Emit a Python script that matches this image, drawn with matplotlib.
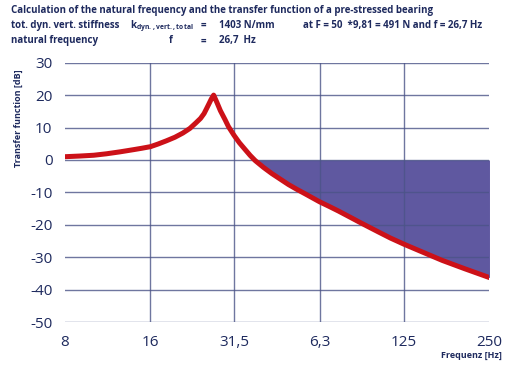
import matplotlib
matplotlib.use("Agg")
import numpy as np
from matplotlib import pyplot as plt
from matplotlib.ticker import FixedLocator, NullLocator

# curve (frequency in Hz, transfer function in dB)
freq = [8, 9, 10.1, 11.2, 12.5, 14, 14.9, 16, 17, 18.2, 19.5, 20.8, 22, 23.1,
        24, 24.7, 25.2, 25.7, 26.2, 26.7,
        27.4, 28.2, 29.3, 30.1, 31.5, 32.9, 34.4, 35.9, 37.4, 40, 42.8, 45.8,
        49.0, 52.5, 56.2, 59.5, 63, 68, 73.6, 80.5, 88, 94.5, 101.5, 112, 125,
        145, 170.5, 205, 250]
gain_db = [1.0, 1.2, 1.45, 1.9, 2.5, 3.2, 3.6, 4.1, 4.9, 5.9, 7.0, 8.3, 9.7, 11.4,
           12.8, 14.3, 15.8, 17.3, 18.8, 20.0,
           17.8, 15.2, 12.4, 10.3, 7.6, 5.3, 3.3, 1.4, -0.2, -2.3, -4.2, -5.9,
           -7.6, -9.1, -10.5, -11.7, -12.9, -14.3, -15.8, -17.6, -19.4, -20.8, -22.2, -24.1, -26.0,
           -28.4, -31.0, -33.6, -36.3]

x_ticks = [8, 16, 31.5, 63, 125, 250]
x_labels = ['8', '16', '31,5', '6,3', '125', '250']
y_ticks = [30, 20, 10, 0, -10, -20, -30, -40, -50]

title = 'Calculation of the natural frequency and the transfer function of a pre-stressed bearing'

navy = '#1E2A5E'
red = '#CC1118'
fill_col = '#5F58A0'
grid_col = '#4B5487'

plt.rcParams['font.family'] = ['Open Sans', 'DejaVu Sans']
plt.rcParams['axes.unicode_minus'] = False

fig = plt.figure(figsize=(5.16, 3.68), dpi=100)
ax = fig.add_axes([0.126, 0.125, 0.8226, 0.7046])

f = np.array(freq)
g = np.array(gain_db)
ax.fill_between(f, g, 0, where=g < 0, interpolate=True, color=fill_col, lw=0, zorder=1)
ax.plot(f, g, color=red, lw=3.6, solid_capstyle='round', solid_joinstyle='round', zorder=4)

for yv in y_ticks:
    ax.axhline(yv, color=grid_col, lw=1.0, alpha=0.8, zorder=2)
for xv in x_ticks[1:-1]:
    ax.axvline(xv, color=grid_col, lw=1.0, alpha=0.8, zorder=2)

ax.set_xscale('log', base=2)
ax.set_xlim(8, 250)
ax.set_ylim(-50, 30)
ax.xaxis.set_major_locator(FixedLocator(x_ticks))
ax.xaxis.set_minor_locator(NullLocator())
ax.set_xticklabels(x_labels)
ax.set_yticks(y_ticks)
ax.tick_params(length=0, labelsize=11, labelcolor=navy)
ax.tick_params(axis='x', pad=9)
ax.tick_params(axis='y', pad=9)
for s in ax.spines.values():
    s.set_visible(False)
ax.set_facecolor('none')

fig.text(0.973, 0.033, 'Frequenz [Hz]', ha='right', va='center', fontsize=6.5,
         fontweight='bold', color=navy)
fig.text(0.035, 0.68, 'Transfer function [dB]', ha='center', va='center', rotation=90,
         fontsize=6.5, fontweight='bold', color=navy)

# header block
hs = 7.0
fig.text(0.022, 0.972, title, ha='left', va='center', fontsize=hs, fontweight='bold', color=navy)
row1, row2 = 0.930, 0.889
fig.text(0.022, row1, 'tot. dyn. vert. stiffness', ha='left', va='center', fontsize=hs,
         fontweight='bold', color=navy)
fig.text(0.252, row1, r'k$_{\mathregular{dyn., vert., total}}$', ha='left', va='center',
         fontsize=hs, fontweight='bold', color=navy)
fig.text(0.388, row1, '=', ha='left', va='center', fontsize=hs, fontweight='bold', color=navy)
fig.text(0.425, row1, '1403 N/mm', ha='left', va='center', fontsize=hs, fontweight='bold', color=navy)
fig.text(0.588, row1, 'at F = 50  *9,81 = 491 N and f = 26,7 Hz', ha='left', va='center',
         fontsize=hs, fontweight='bold', color=navy)
fig.text(0.022, row2, 'natural frequency', ha='left', va='center', fontsize=hs,
         fontweight='bold', color=navy)
fig.text(0.328, row2, 'f', ha='left', va='center', fontsize=hs, fontweight='bold', color=navy)
fig.text(0.388, row2, '=', ha='left', va='center', fontsize=hs, fontweight='bold', color=navy)
fig.text(0.425, row2, '26,7  Hz', ha='left', va='center', fontsize=hs, fontweight='bold', color=navy)

fig.savefig('out.png', dpi=100)
